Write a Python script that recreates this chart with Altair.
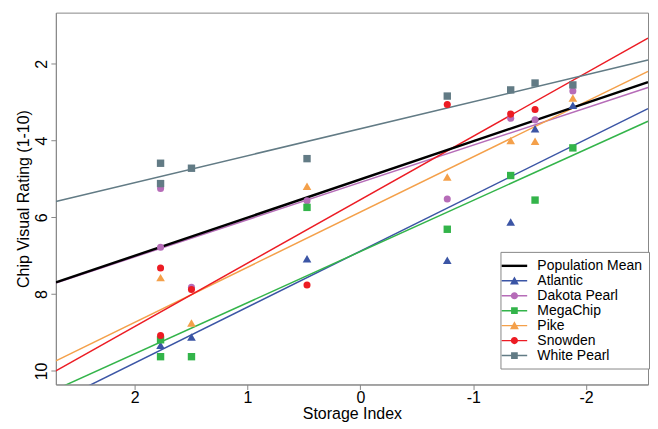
import altair as alt
import pandas as pd

# ---------------- data ----------------
varieties = ["Atlantic", "Dakota Pearl", "MegaChip", "Pike", "Snowden", "White Pearl"]
colors = ["#3b55a5", "#b66cb8", "#33b44a", "#f4a04a", "#ec1c24", "#627b85"]
shapes = ["triangle-up", "circle", "square", "triangle-up", "circle", "square"]
marker_sizes = [75, 50, 55, 75, 50, 55]

atlantic_si = [1.771, 1.497, 0.473, -0.770, -1.332, -1.548, -1.883]
atlantic_rating = [9.33, 9.12, 7.08, 7.12, 6.12, 3.69, 3.08]

dakota_si = [1.771, 1.771, 1.497, 0.473, -0.770, -1.332, -1.548, -1.883]
dakota_rating = [5.25, 6.78, 7.82, 5.57, 5.52, 3.42, 3.46, 2.71]

megachip_si = [1.771, 1.771, 1.497, 0.473, -0.770, -1.332, -1.548, -1.883]
megachip_rating = [9.19, 9.63, 9.63, 5.74, 6.31, 4.91, 5.55, 4.19]

pike_si = [1.771, 1.497, 0.473, -0.770, -1.332, -1.548, -1.883]
pike_rating = [7.57, 8.75, 5.19, 4.95, 4.00, 4.02, 2.89]

snowden_si = [1.771, 1.771, 1.497, 0.473, -0.770, -1.332, -1.548]
snowden_rating = [7.32, 9.08, 7.88, 7.76, 3.06, 3.31, 3.19]

whitepearl_si = [1.771, 1.771, 1.497, 0.473, -0.770, -1.332, -1.548, -1.883]
whitepearl_rating = [4.59, 5.12, 4.72, 4.47, 2.84, 2.68, 2.50, 2.55]

line_names = ["Population Mean"] + varieties
line_colors = ["#000000"] + colors
line_intercepts = [5.01, 6.88, 5.09, 6.89, 5.86, 5.54, 3.69]
line_slopes = [0.995, 1.457, 0.970, 1.332, 1.438, 1.652, 0.703]
line_widths = [2.4, 1.5, 1.5, 1.5, 1.5, 1.5, 1.5]

x_ticks = [2, 1, 0, -1, -2]
y_ticks = [2, 4, 6, 8, 10]
x_domain = [-2.549, 2.699]
y_domain = [0.666, 10.354]

# legend symbols: line segment + marker (custom paths)
seg = "M-1.6,-0.09H1.6V0.09H-1.6Z"
seg_thick = "M-1.6,-0.15H1.6V0.15H-1.6Z"
tri = "M0,-0.55L0.56,0.45H-0.56Z"
circ = "M-0.45,0A0.45,0.45 0 1,1 0.45,0A0.45,0.45 0 1,1 -0.45,0Z"
sq = "M-0.42,-0.42H0.42V0.42H-0.42Z"
legend_paths = [seg_thick, seg + tri, seg + circ, seg + sq, seg + tri, seg + circ, seg + sq]

# ---------------- tables ----------------
point_series = [
    (atlantic_si, atlantic_rating),
    (dakota_si, dakota_rating),
    (megachip_si, megachip_rating),
    (pike_si, pike_rating),
    (snowden_si, snowden_rating),
    (whitepearl_si, whitepearl_rating),
]
rows = []
for name, col, shp, sz, (sis, rts) in zip(varieties, colors, shapes, marker_sizes, point_series):
    for s, r in zip(sis, rts):
        rows.append({"variety": name, "si": s, "rating": r, "color": col, "shape": shp, "sz": sz})
points_df = pd.DataFrame(rows)

lrows = []
for name, col, a, b, w in zip(line_names, line_colors, line_intercepts, line_slopes, line_widths):
    lrows.append({"variety": name, "color": col, "w": w,
                  "x1": x_domain[0], "y1": a + b * x_domain[0],
                  "x2": x_domain[1], "y2": a + b * x_domain[1]})
lines_df = pd.DataFrame(lrows)

legend_df = pd.DataFrame({"variety": line_names, "si": [None] * 7, "rating": [None] * 7})

FONT = "Liberation Sans"

xscale = alt.Scale(domain=x_domain, reverse=True, nice=False, zero=False)
yscale = alt.Scale(domain=y_domain, reverse=True, nice=False, zero=False)

xaxis = alt.Axis(title="Storage Index", values=x_ticks, grid=False, tickSize=5,
                 labelExpr="'' + datum.value",
                 labelPadding=0, titlePadding=0, labelFontSize=16, titleFontSize=16,
                 labelFont=FONT, titleFont=FONT, titleFontWeight="normal",
                 labelColor="#000", titleColor="#000", domainColor="#888", tickColor="#888")
yaxis = alt.Axis(title="Chip Visual Rating (1-10)", values=y_ticks, grid=False, tickSize=5,
                 labelExpr="'' + datum.value",
                 labelAngle=270, labelPadding=1, titlePadding=2, labelFontSize=16,
                 titleFontSize=16, labelFont=FONT, titleFont=FONT, titleFontWeight="normal",
                 labelColor="#000", titleColor="#000", domainColor="#888", tickColor="#888")

colored_lines = alt.Chart(lines_df[lines_df["variety"] != "Population Mean"]).mark_rule(clip=True).encode(
    x=alt.X("x1:Q", scale=xscale, axis=xaxis),
    y=alt.Y("y1:Q", scale=yscale, axis=yaxis),
    x2="x2:Q",
    y2="y2:Q",
    color=alt.Color("color:N", scale=None),
    strokeWidth=alt.StrokeWidth("w:Q", scale=None),
)
mean_line = alt.Chart(lines_df[lines_df["variety"] == "Population Mean"]).mark_rule(clip=True).encode(
    x="x1:Q", y="y1:Q", x2="x2:Q", y2="y2:Q",
    color=alt.Color("color:N", scale=None),
    strokeWidth=alt.StrokeWidth("w:Q", scale=None),
)

pts = alt.Chart(points_df).mark_point(filled=True, opacity=1).encode(
    x="si:Q", y="rating:Q",
    color=alt.Color("color:N", scale=None),
    shape=alt.Shape("shape:N", scale=None),
    size=alt.Size("sz:Q", scale=None),
)

leg = alt.Legend(title=None, orient="none", legendX=446, legendY=240, padding=6,
                 symbolSize=256, symbolStrokeWidth=0, labelOffset=15, labelFontSize=14,
                 labelFont=FONT, labelColor="#000", strokeColor="#888", fillColor="white",
                 rowPadding=0, labelLimit=300, symbolOpacity=1)

legend_layer = alt.Chart(legend_df).mark_point(filled=True, size=60, opacity=1).encode(
    x="si:Q", y="rating:Q",
    color=alt.Color("variety:N", scale=alt.Scale(domain=line_names, range=line_colors),
                    sort=line_names, legend=leg),
    shape=alt.Shape("variety:N", scale=alt.Scale(domain=line_names, range=legend_paths),
                    sort=line_names, legend=leg),
)

chart = alt.layer(colored_lines, mean_line, pts, legend_layer).resolve_scale(
    color="independent", shape="independent"
).properties(
    width=594, height=373,
    padding={"left": 8, "top": 4, "right": 0, "bottom": 0},
    background="white",
).configure_view(stroke="#888", strokeWidth=1)

chart.save("out.html", embed_options={"renderer": "svg", "actions": False})
